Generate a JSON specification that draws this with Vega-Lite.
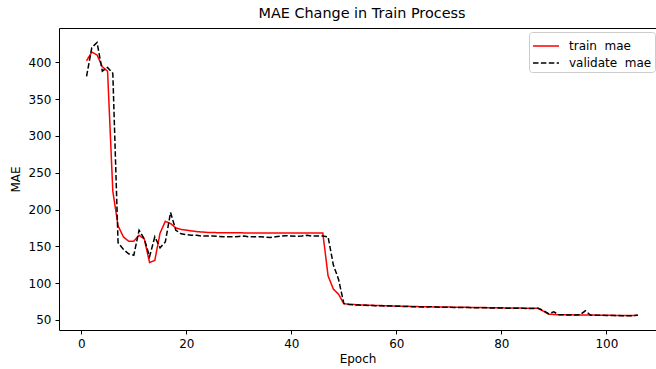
{
  "$schema": "https://vega.github.io/schema/vega-lite/v6.json",
  "autosize": {"type": "none"},
  "padding": {"left": 59, "top": 28, "right": 0, "bottom": 39},
  "width": 597,
  "height": 302,
  "title": {"text": "MAE Change in Train Process", "fontSize": 14.4, "fontWeight": "normal", "font": "DejaVu Sans", "color": "#000", "offset": 7, "dx": 4.5},
  "config": {
    "font": "DejaVu Sans",
    "view": {"stroke": null},
    "axis": {"grid": false, "domainColor": "#000", "tickColor": "#000", "labelColor": "#000", "titleColor": "#000", "labelFontSize": 12, "titleFontSize": 12, "titleFontWeight": "normal", "tickSize": 4, "labelPadding": 4, "domainWidth": 1, "tickWidth": 1},
    "legend": {"labelFontSize": 12, "labelColor": "#000"}
  },
  "data": {"values": [
    {"epoch": 1, "train": 402, "validate": 381},
    {"epoch": 2, "train": 414, "validate": 420},
    {"epoch": 3, "train": 410, "validate": 427},
    {"epoch": 4, "train": 394, "validate": 388},
    {"epoch": 5, "train": 388, "validate": 393},
    {"epoch": 6, "train": 225, "validate": 385},
    {"epoch": 7, "train": 178, "validate": 155},
    {"epoch": 8, "train": 163, "validate": 146},
    {"epoch": 9, "train": 157, "validate": 140},
    {"epoch": 10, "train": 157, "validate": 138},
    {"epoch": 11, "train": 165, "validate": 172},
    {"epoch": 12, "train": 160, "validate": 160},
    {"epoch": 13, "train": 128, "validate": 136},
    {"epoch": 14, "train": 131, "validate": 163},
    {"epoch": 15, "train": 168, "validate": 148},
    {"epoch": 16, "train": 184, "validate": 156},
    {"epoch": 17, "train": 181, "validate": 196},
    {"epoch": 18, "train": 175, "validate": 172},
    {"epoch": 19, "train": 173, "validate": 167},
    {"epoch": 20, "train": 172, "validate": 166},
    {"epoch": 21, "train": 171, "validate": 165},
    {"epoch": 22, "train": 170, "validate": 165},
    {"epoch": 23, "train": 169.5, "validate": 164},
    {"epoch": 24, "train": 169, "validate": 164},
    {"epoch": 25, "train": 168.8, "validate": 164},
    {"epoch": 26, "train": 168.6, "validate": 163.5},
    {"epoch": 27, "train": 168.5, "validate": 163},
    {"epoch": 28, "train": 168.5, "validate": 163},
    {"epoch": 29, "train": 168.4, "validate": 163},
    {"epoch": 30, "train": 168.4, "validate": 163.5},
    {"epoch": 31, "train": 168.3, "validate": 164},
    {"epoch": 32, "train": 168.3, "validate": 163},
    {"epoch": 33, "train": 168.3, "validate": 163},
    {"epoch": 34, "train": 168.2, "validate": 163},
    {"epoch": 35, "train": 168.2, "validate": 162.5},
    {"epoch": 36, "train": 168.2, "validate": 162},
    {"epoch": 37, "train": 168.2, "validate": 163},
    {"epoch": 38, "train": 168.1, "validate": 164},
    {"epoch": 39, "train": 168.1, "validate": 164.5},
    {"epoch": 40, "train": 168.1, "validate": 164},
    {"epoch": 41, "train": 168.1, "validate": 163.5},
    {"epoch": 42, "train": 168, "validate": 164},
    {"epoch": 43, "train": 168, "validate": 165},
    {"epoch": 44, "train": 168, "validate": 164},
    {"epoch": 45, "train": 168, "validate": 164},
    {"epoch": 46, "train": 168, "validate": 164},
    {"epoch": 47, "train": 110, "validate": 163},
    {"epoch": 48, "train": 92, "validate": 125},
    {"epoch": 49, "train": 85, "validate": 105},
    {"epoch": 50, "train": 72, "validate": 72.5},
    {"epoch": 51, "train": 71.5, "validate": 71},
    {"epoch": 52, "train": 71, "validate": 70.5},
    {"epoch": 53, "train": 70.5, "validate": 70.2},
    {"epoch": 54, "train": 70.3, "validate": 70},
    {"epoch": 55, "train": 70, "validate": 69.7},
    {"epoch": 56, "train": 69.8, "validate": 69.5},
    {"epoch": 57, "train": 69.6, "validate": 69.3},
    {"epoch": 58, "train": 69.4, "validate": 69.1},
    {"epoch": 59, "train": 69.2, "validate": 68.9},
    {"epoch": 60, "train": 69, "validate": 68.7},
    {"epoch": 61, "train": 68.8, "validate": 68.5},
    {"epoch": 62, "train": 68.6, "validate": 68.3},
    {"epoch": 63, "train": 68.4, "validate": 68.1},
    {"epoch": 64, "train": 68.2, "validate": 67.9},
    {"epoch": 65, "train": 68, "validate": 67.7},
    {"epoch": 66, "train": 67.9, "validate": 67.6},
    {"epoch": 67, "train": 67.8, "validate": 68.3},
    {"epoch": 68, "train": 67.7, "validate": 67.4},
    {"epoch": 69, "train": 67.6, "validate": 67.3},
    {"epoch": 70, "train": 67.5, "validate": 67.2},
    {"epoch": 71, "train": 67.4, "validate": 67.1},
    {"epoch": 72, "train": 67.3, "validate": 67},
    {"epoch": 73, "train": 67.2, "validate": 66.9},
    {"epoch": 74, "train": 67.1, "validate": 66.8},
    {"epoch": 75, "train": 67, "validate": 66.7},
    {"epoch": 76, "train": 66.9, "validate": 66.6},
    {"epoch": 77, "train": 66.8, "validate": 66.5},
    {"epoch": 78, "train": 66.7, "validate": 66.4},
    {"epoch": 79, "train": 66.6, "validate": 66.3},
    {"epoch": 80, "train": 66.5, "validate": 66.2},
    {"epoch": 81, "train": 66.4, "validate": 66.1},
    {"epoch": 82, "train": 66.3, "validate": 66},
    {"epoch": 83, "train": 66.2, "validate": 65.9},
    {"epoch": 84, "train": 66.1, "validate": 65.8},
    {"epoch": 85, "train": 66, "validate": 65.7},
    {"epoch": 86, "train": 66, "validate": 65.7},
    {"epoch": 87, "train": 66, "validate": 65.8},
    {"epoch": 88, "train": 62, "validate": 63},
    {"epoch": 89, "train": 58, "validate": 58.5},
    {"epoch": 90, "train": 57.5, "validate": 61},
    {"epoch": 91, "train": 57, "validate": 57},
    {"epoch": 92, "train": 57, "validate": 57},
    {"epoch": 93, "train": 57, "validate": 56.8},
    {"epoch": 94, "train": 56.9, "validate": 56.8},
    {"epoch": 95, "train": 56.8, "validate": 57},
    {"epoch": 96, "train": 56.8, "validate": 62.5},
    {"epoch": 97, "train": 56.7, "validate": 56.5},
    {"epoch": 98, "train": 56.6, "validate": 56.4},
    {"epoch": 99, "train": 56.5, "validate": 56.3},
    {"epoch": 100, "train": 56.4, "validate": 56.2},
    {"epoch": 101, "train": 56.3, "validate": 56.1},
    {"epoch": 102, "train": 56.2, "validate": 56},
    {"epoch": 103, "train": 56.1, "validate": 55.9},
    {"epoch": 104, "train": 56, "validate": 55.8},
    {"epoch": 105, "train": 56, "validate": 55.8},
    {"epoch": 106, "train": 56.5, "validate": 56.3}
  ]},
  "transform": [{"fold": ["train", "validate"], "as": ["series", "mae"]}],
  "resolve": {"axis": {"x": "independent"}},
  "layer": [
    {
      "mark": {"type": "line", "strokeWidth": 1.5, "clip": true},
      "encoding": {
        "x": {"field": "epoch", "type": "quantitative", "scale": {"domain": [-4.25, 109.46], "nice": false, "zero": false}, "axis": {"values": [0, 20, 40, 60, 80, 100], "title": "Epoch", "titlePadding": 4}},
        "y": {"field": "mae", "type": "quantitative", "scale": {"domain": [36.4, 446.6], "nice": false, "zero": false}, "axis": {"values": [50, 100, 150, 200, 250, 300, 350, 400], "title": "MAE", "titlePadding": 6}},
        "color": {"field": "series", "type": "nominal", "scale": {"domain": ["train", "validate"], "range": ["#ff0000", "#000000"]},
          "legend": {"title": null, "orient": "none", "legendX": 470, "legendY": 4, "symbolType": "M-1,0H1.6", "symbolSize": 400, "symbolStrokeWidth": 1.5, "labelOffset": 15, "rowPadding": -2, "padding": 3, "fillColor": "#ffffff", "strokeColor": "#cccccc", "cornerRadius": 3,
            "labelExpr": "datum.label == 'train' ? 'train\u00a0 mae' : 'validate\u00a0 mae'"}},
        "strokeDash": {"field": "series", "type": "nominal", "scale": {"domain": ["train", "validate"], "range": [[1, 0], [5.5, 2.4]]}, "legend": null}
      }
    },
    {
      "mark": {"type": "line", "opacity": 0},
      "encoding": {
        "x": {"field": "epoch", "type": "quantitative", "axis": {"orient": "top", "labels": false, "ticks": false, "title": null, "domain": true}},
        "y": {"field": "mae", "type": "quantitative"}
      }
    }
  ]
}
